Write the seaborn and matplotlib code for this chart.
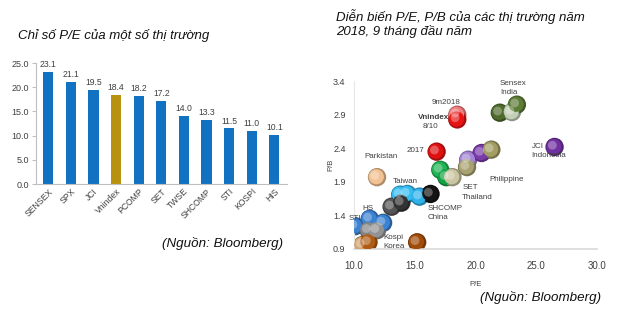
import matplotlib
matplotlib.use("Agg")
import matplotlib.pyplot as plt
import matplotlib.colors as mcolors
import seaborn as sns
import pandas as pd
import numpy as np

# ---- data: left bar chart ----
markets = ["SENSEX", "SPX", "JCI", "Vnindex", "PCOMP", "SET", "TWSE", "SHCOMP", "STI", "KOSPI", "HIS"]
pe_values = [23.1, 21.1, 19.5, 18.4, 18.2, 17.2, 14.0, 13.3, 11.5, 11.0, 10.1]

# ---- data: right scatter ----
pe_pts = [22.0, 23.0, 23.4, 18.5, 18.5, 16.8, 26.5, 19.4, 19.3, 20.5, 21.3,
          17.1, 17.6, 18.1, 11.9, 13.8, 14.4, 15.4, 16.3, 13.1, 13.9,
          11.3, 12.4, 10.1, 11.2, 11.9, 10.7, 11.2, 15.2]
pb_pts = [2.93, 2.94, 3.05, 2.90, 2.83, 2.35, 2.42, 2.23, 2.12, 2.33, 2.38,
          2.08, 1.97, 1.97, 1.97, 1.71, 1.72, 1.68, 1.72, 1.53, 1.59,
          1.35, 1.29, 1.24, 1.18, 1.18, 0.96, 1.00, 1.00]
pt_colors = ["#4f6b2c", "#c3d0b8", "#5d7c36", "#f27f7f", "#e81414", "#e01010", "#7030a0",
             "#a585d5", "#a8a272", "#7a3aa8", "#a39d62",
             "#22b455", "#12a444", "#cbc7a3", "#f2c293", "#35bcf2", "#35bcf2", "#2fb2ea", "#151515",
             "#555555", "#333333", "#3c82d2", "#3c82d2", "#3c82d2", "#858585", "#939393",
             "#d2a474", "#b05c14", "#a24c0a"]

labels_txt = ["Sensex\nIndia", "9m2018", "Vnindex", "8/10", "2017", "JCI\nIndonesia", "Parkistan",
              "Philippine", "Taiwan", "SET\nThailand", "SHCOMP\nChina", "HS", "STI", "Kospi\nKorea"]
labels_x = [22.0, 17.6, 15.3, 16.3, 15.8, 24.6, 10.9, 21.1, 13.2, 18.9, 16.1, 10.7, 9.6, 12.4]
labels_y = [3.30, 3.08, 2.86, 2.73, 2.36, 2.36, 2.28, 1.94, 1.90, 1.74, 1.44, 1.50, 1.36, 1.00]
labels_ha = ["left", "center", "left", "center", "right", "left", "left", "left", "left", "left",
             "left", "left", "left", "left"]

TXT = "#404040"
plt.rcParams['font.family'] = ['Liberation Sans', 'DejaVu Sans']

fig = plt.figure(figsize=(6.4, 3.34), dpi=100)

# ---------- left: bar chart ----------
ax1 = fig.add_axes([0.056, 0.449, 0.392, 0.362])
df = pd.DataFrame({"market": markets, "pe": pe_values})
bar_cols = ["#b8920e" if m == "Vnindex" else "#1272c2" for m in markets]
sns.barplot(data=df, x="market", y="pe", hue="market", palette=bar_cols, legend=False,
            width=0.45, ax=ax1, saturation=1)
ax1.set_ylim(0, 25)
ax1.set_xlim(-0.55, len(markets) - 0.45)
ax1.set_yticks(np.arange(0, 25.1, 5))
ax1.set_yticklabels([f"{v:.1f}" for v in np.arange(0, 25.1, 5)], fontsize=6.5, color=TXT)
ax1.set_xticks(range(len(markets)))
ax1.set_xticklabels(markets, rotation=45, ha="right", rotation_mode="anchor", fontsize=6.2, color=TXT)
ax1.set_xlabel("")
ax1.set_ylabel("")
for i, v in enumerate(pe_values):
    ax1.text(i, v + 0.6, f"{v:.1f}", ha="center", va="bottom", fontsize=6.2, color=TXT)
for s in ["top", "right"]:
    ax1.spines[s].set_visible(False)
for s in ["left", "bottom"]:
    ax1.spines[s].set_color("#bfbfbf")
    ax1.spines[s].set_linewidth(0.8)
ax1.tick_params(axis="both", length=0, pad=2)
ax1.tick_params(axis="y", length=3, color="#bfbfbf")
ax1.patch.set_alpha(0)

fig.text(0.028, 0.895, "Chỉ số P/E của một số thị trường", fontsize=9.5, style="italic",
         color="#111111", ha="left", va="center")
fig.text(0.442, 0.272, "(Nguồn: Bloomberg)", fontsize=9.6, style="italic", color="#111111",
         ha="right", va="center")

# ---------- right: scatter ----------
ax2 = fig.add_axes([0.553, 0.2545, 0.380, 0.5025])
sdf = pd.DataFrame({"pe": pe_pts, "pb": pb_pts, "c": pt_colors})
dark = [mcolors.to_hex(np.array(mcolors.to_rgb(c)) * 0.72) for c in pt_colors]
# outer darker rim
ax2.scatter(pe_pts, pb_pts, s=175, c=dark, edgecolors="none", zorder=2)
# main body
sns.scatterplot(data=sdf.assign(pe=sdf.pe - 0.06, pb=sdf.pb + 0.006), x="pe", y="pb", hue="c",
                palette={c: c for c in pt_colors}, legend=False, s=120, edgecolor="none",
                linewidth=0, ax=ax2, zorder=3)
# soft highlight to suggest the spherical look
ax2.scatter(np.array(pe_pts) - 0.18, np.array(pb_pts) + 0.025, s=40, c="white", alpha=0.3,
            edgecolors="none", zorder=4)
ax2.set_xlim(10, 30)
ax2.set_ylim(0.9, 3.4)
ax2.set_xticks([10, 15, 20, 25, 30])
ax2.set_xticklabels(["10.0", "15.0", "20.0", "25.0", "30.0"], fontsize=7, color=TXT)
ax2.set_yticks([0.9, 1.4, 1.9, 2.4, 2.9, 3.4])
ax2.set_yticklabels(["0.9", "1.4", "1.9", "2.4", "2.9", "3.4"], fontsize=6.5, color=TXT)
ax2.set_xlabel("P/E", fontsize=5.5, color=TXT, labelpad=7)
ax2.set_ylabel("P/B", fontsize=5.5, color=TXT, labelpad=-1)
ax2.tick_params(axis="both", length=0)
ax2.tick_params(axis="x", pad=9)
ax2.tick_params(axis="y", pad=6)
for s in ["top", "right"]:
    ax2.spines[s].set_visible(False)
ax2.spines["left"].set_color("#e6e6e6")
ax2.spines["bottom"].set_color("#d9d9d9")
ax2.spines["bottom"].set_linewidth(1.2)
ax2.patch.set_alpha(0)

for t, x, y, ha in zip(labels_txt, labels_x, labels_y, labels_ha):
    ax2.text(x, y, t, ha=ha, va="center", fontsize=5.8, color=TXT,
             fontweight="bold" if t == "Vnindex" else "normal",
             linespacing=1.45, clip_on=False, zorder=5)

fig.text(0.525, 0.93, "Diễn biến P/E, P/B của các thị trường năm\n2018, 9 tháng đầu năm",
         fontsize=9.5, style="italic", color="#111111", ha="left", va="center", linespacing=1.15)
fig.text(0.94, 0.108, "(Nguồn: Bloomberg)", fontsize=9.6, style="italic", color="#111111",
         ha="right", va="center")

fig.savefig("out.png", dpi=100)
